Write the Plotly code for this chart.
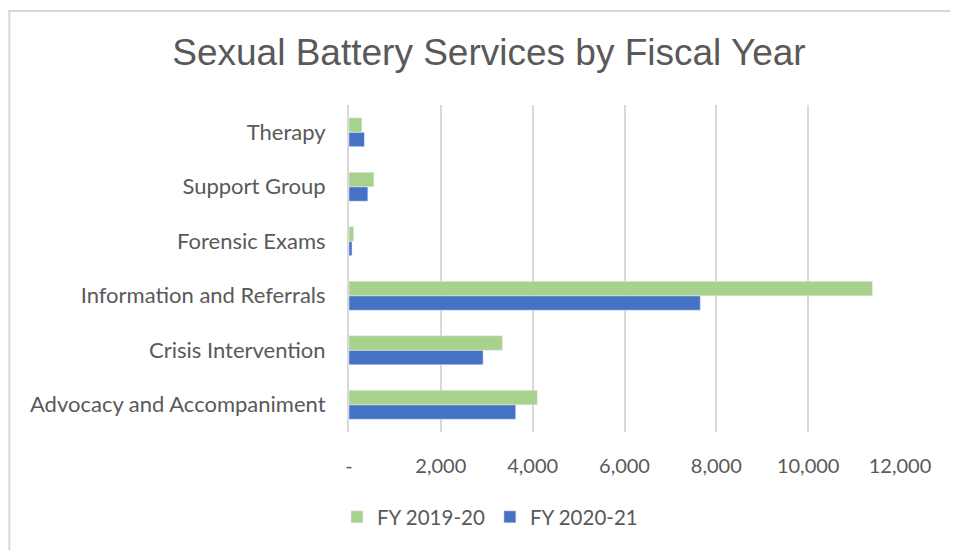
import plotly.graph_objects as go

categories = ["Advocacy and Accompaniment", "Crisis Intervention", "Information and Referrals",
              "Forensic Exams", "Support Group", "Therapy"]
fy_2019_20 = [4100, 3340, 11400, 100, 540, 280]
fy_2020_21 = [3630, 2920, 7650, 65, 410, 335]
tick_values = [0, 2000, 4000, 6000, 8000, 10000, 12000]
tick_labels = ["-", "2,000", "4,000", "6,000", "8,000", "10,000", "12,000"]

W, H = 958, 550
OFF = 8  # page body margin
L, R, T, B = 349 - OFF, 900.5 - OFF, 105 - OFF, 432 - OFF

def px(x):
    return (x - L) / (R - L)

def py(y):
    return (B - y) / (B - T)

fig = go.Figure()
fig.add_trace(go.Bar(y=categories, x=fy_2020_21, name="FY 2020-21", orientation="h",
                     marker=dict(color="#4472C4"), legendrank=2))
fig.add_trace(go.Bar(y=categories, x=fy_2019_20, name="FY 2019-20", orientation="h",
                     marker=dict(color="#A9D18E"), legendrank=1))

font_main = "Lato, 'Open Sans', sans-serif"
fig.update_layout(
    width=W, height=H,
    margin=dict(l=L, r=W - R, t=T, b=H - B, pad=0),
    paper_bgcolor="white", plot_bgcolor="white",
    barmode="group", bargap=0.47, bargroupgap=0,
    title=dict(text="Sexual Battery Services by Fiscal Year", x=(489 - OFF) / W, xanchor="center",
               y=1 - (52 - OFF) / H, yanchor="middle",
               font=dict(family="'Liberation Sans', Arial, sans-serif", size=37, color="#595959")),
    xaxis=dict(range=[0, 12000], tickvals=tick_values, ticktext=tick_labels,
               showgrid=True, gridcolor="#D9D9D9", gridwidth=2, zeroline=False,
               showline=False, ticks="", ticklabelstandoff=20,
               tickfont=dict(family=font_main, size=20, color="#595959")),
    yaxis=dict(showgrid=False, zeroline=False, showline=True, linecolor="#D9D9D9", linewidth=2,
               ticks="", ticklabelstandoff=17,
               tickfont=dict(family=font_main, size=22, color="#595959")),
    legend=dict(orientation="h", x=(490 - OFF) / W, xanchor="center", y=1 - (517 - OFF) / H,
                yanchor="middle", xref="container", yref="container",
                font=dict(family=font_main, size=20.5, color="#595959"),
                itemwidth=30, tracegroupgap=0),
    showlegend=True,
    shapes=[
        dict(type="line", xref="paper", yref="paper", x0=px(0), x1=px(W), y0=py(3), y1=py(3),
             line=dict(color="#D9D9D9", width=2)),
        dict(type="line", xref="paper", yref="paper", x0=px(1), x1=px(1), y0=py(3), y1=py(H),
             line=dict(color="#D9D9D9", width=2)),
    ],
)

fig.write_html("out.html")
